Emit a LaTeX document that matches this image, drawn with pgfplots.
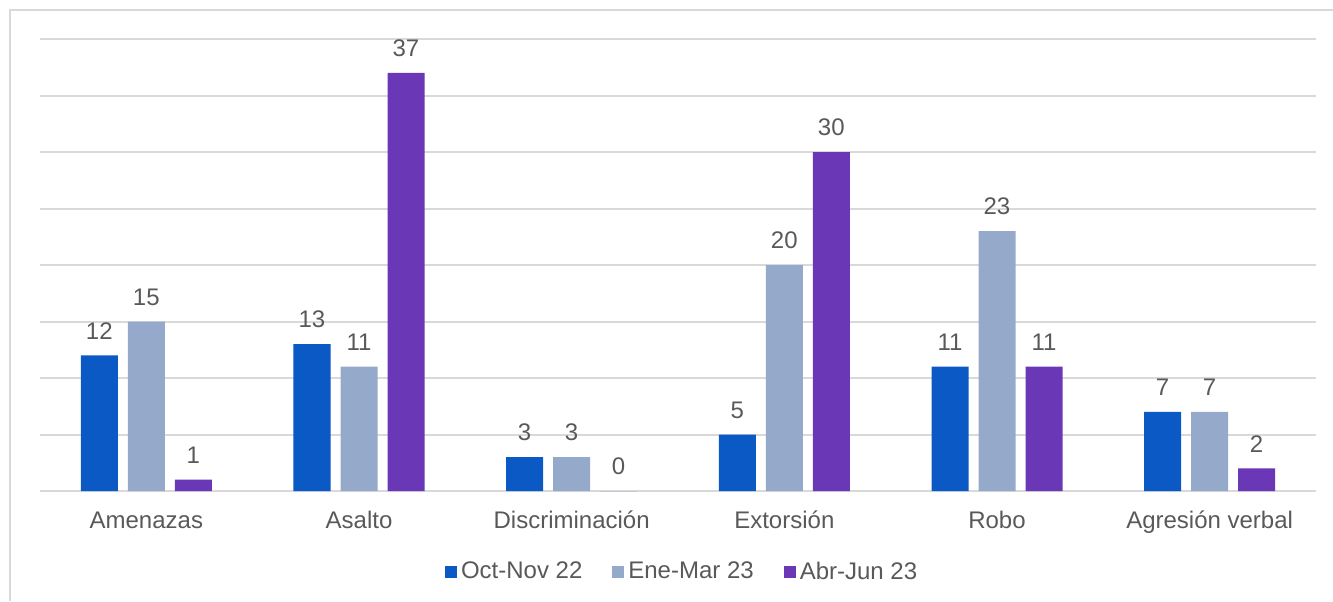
\documentclass[border=0pt]{standalone}
\usepackage{pgfplots}
\pgfplotsset{compat=1.18}
\usepackage{fontspec}
\setmainfont{Liberation Sans}

\definecolor{octnov}{HTML}{0A59C4}
\definecolor{enemar}{HTML}{95A9CB}
\definecolor{abrjun}{HTML}{6A38B7}
\definecolor{gridgray}{HTML}{D9D9D9}
\definecolor{txtgray}{HTML}{595959}

\begin{document}
\begin{tikzpicture}[x=1pt,y=1pt]
\useasboundingbox (0,0) rectangle (666.5,300.5);
\draw[gridgray, line width=1pt] (5,0) -- (5,295.5) -- (666.5,295.5);
\begin{axis}[
  at={(20pt,55pt)}, anchor=south west,
  scale only axis,
  width=638pt, height=226pt,
  ybar=5pt, bar width=18.5pt,
  xmin=-0.5, xmax=5.5,
  ymin=0, ymax=40,
  ytick={0,5,...,40}, yticklabels={},
  ymajorgrids,
  grid style={gridgray, line width=1pt},
  axis line style={draw=none},
  tick style={draw=none},
  xtick=data,
  xticklabels={Amenazas,Asalto,Discriminación,Extorsión,Robo,Agresión verbal},
  xticklabel style={font=\fontsize{12}{14}\selectfont, text=txtgray, text height=8.6pt, yshift=-2.4pt},
  /pgf/number format/assume math mode=true,
  nodes near coords,
  every node near coord/.append style={font=\fontsize{12}{14}\selectfont, text=txtgray, yshift=4.5pt},
  legend columns=3,
  legend style={draw=none, at={(0.504,-0.179)}, anchor=center,
    font=\fontsize{12}{14}\selectfont, text=txtgray,
    /tikz/every even column/.append style={column sep=13pt}},
  legend image code/.code={\fill[#1,draw=none] (0pt,-3pt) rectangle (6pt,3pt);},
]
\addplot[fill=octnov, draw=none] coordinates {(0,12) (1,13) (2,3) (3,5) (4,11) (5,7)};
\addlegendentry{Oct-Nov 22}
\addplot[fill=enemar, draw=none] coordinates {(0,15) (1,11) (2,3) (3,20) (4,23) (5,7)};
\addlegendentry{Ene-Mar 23}
\addplot[fill=abrjun, draw=none] coordinates {(0,1) (1,37) (2,0) (3,30) (4,11) (5,2)};
\addlegendentry{Abr-Jun 23}
\end{axis}
\end{tikzpicture}
\end{document}
